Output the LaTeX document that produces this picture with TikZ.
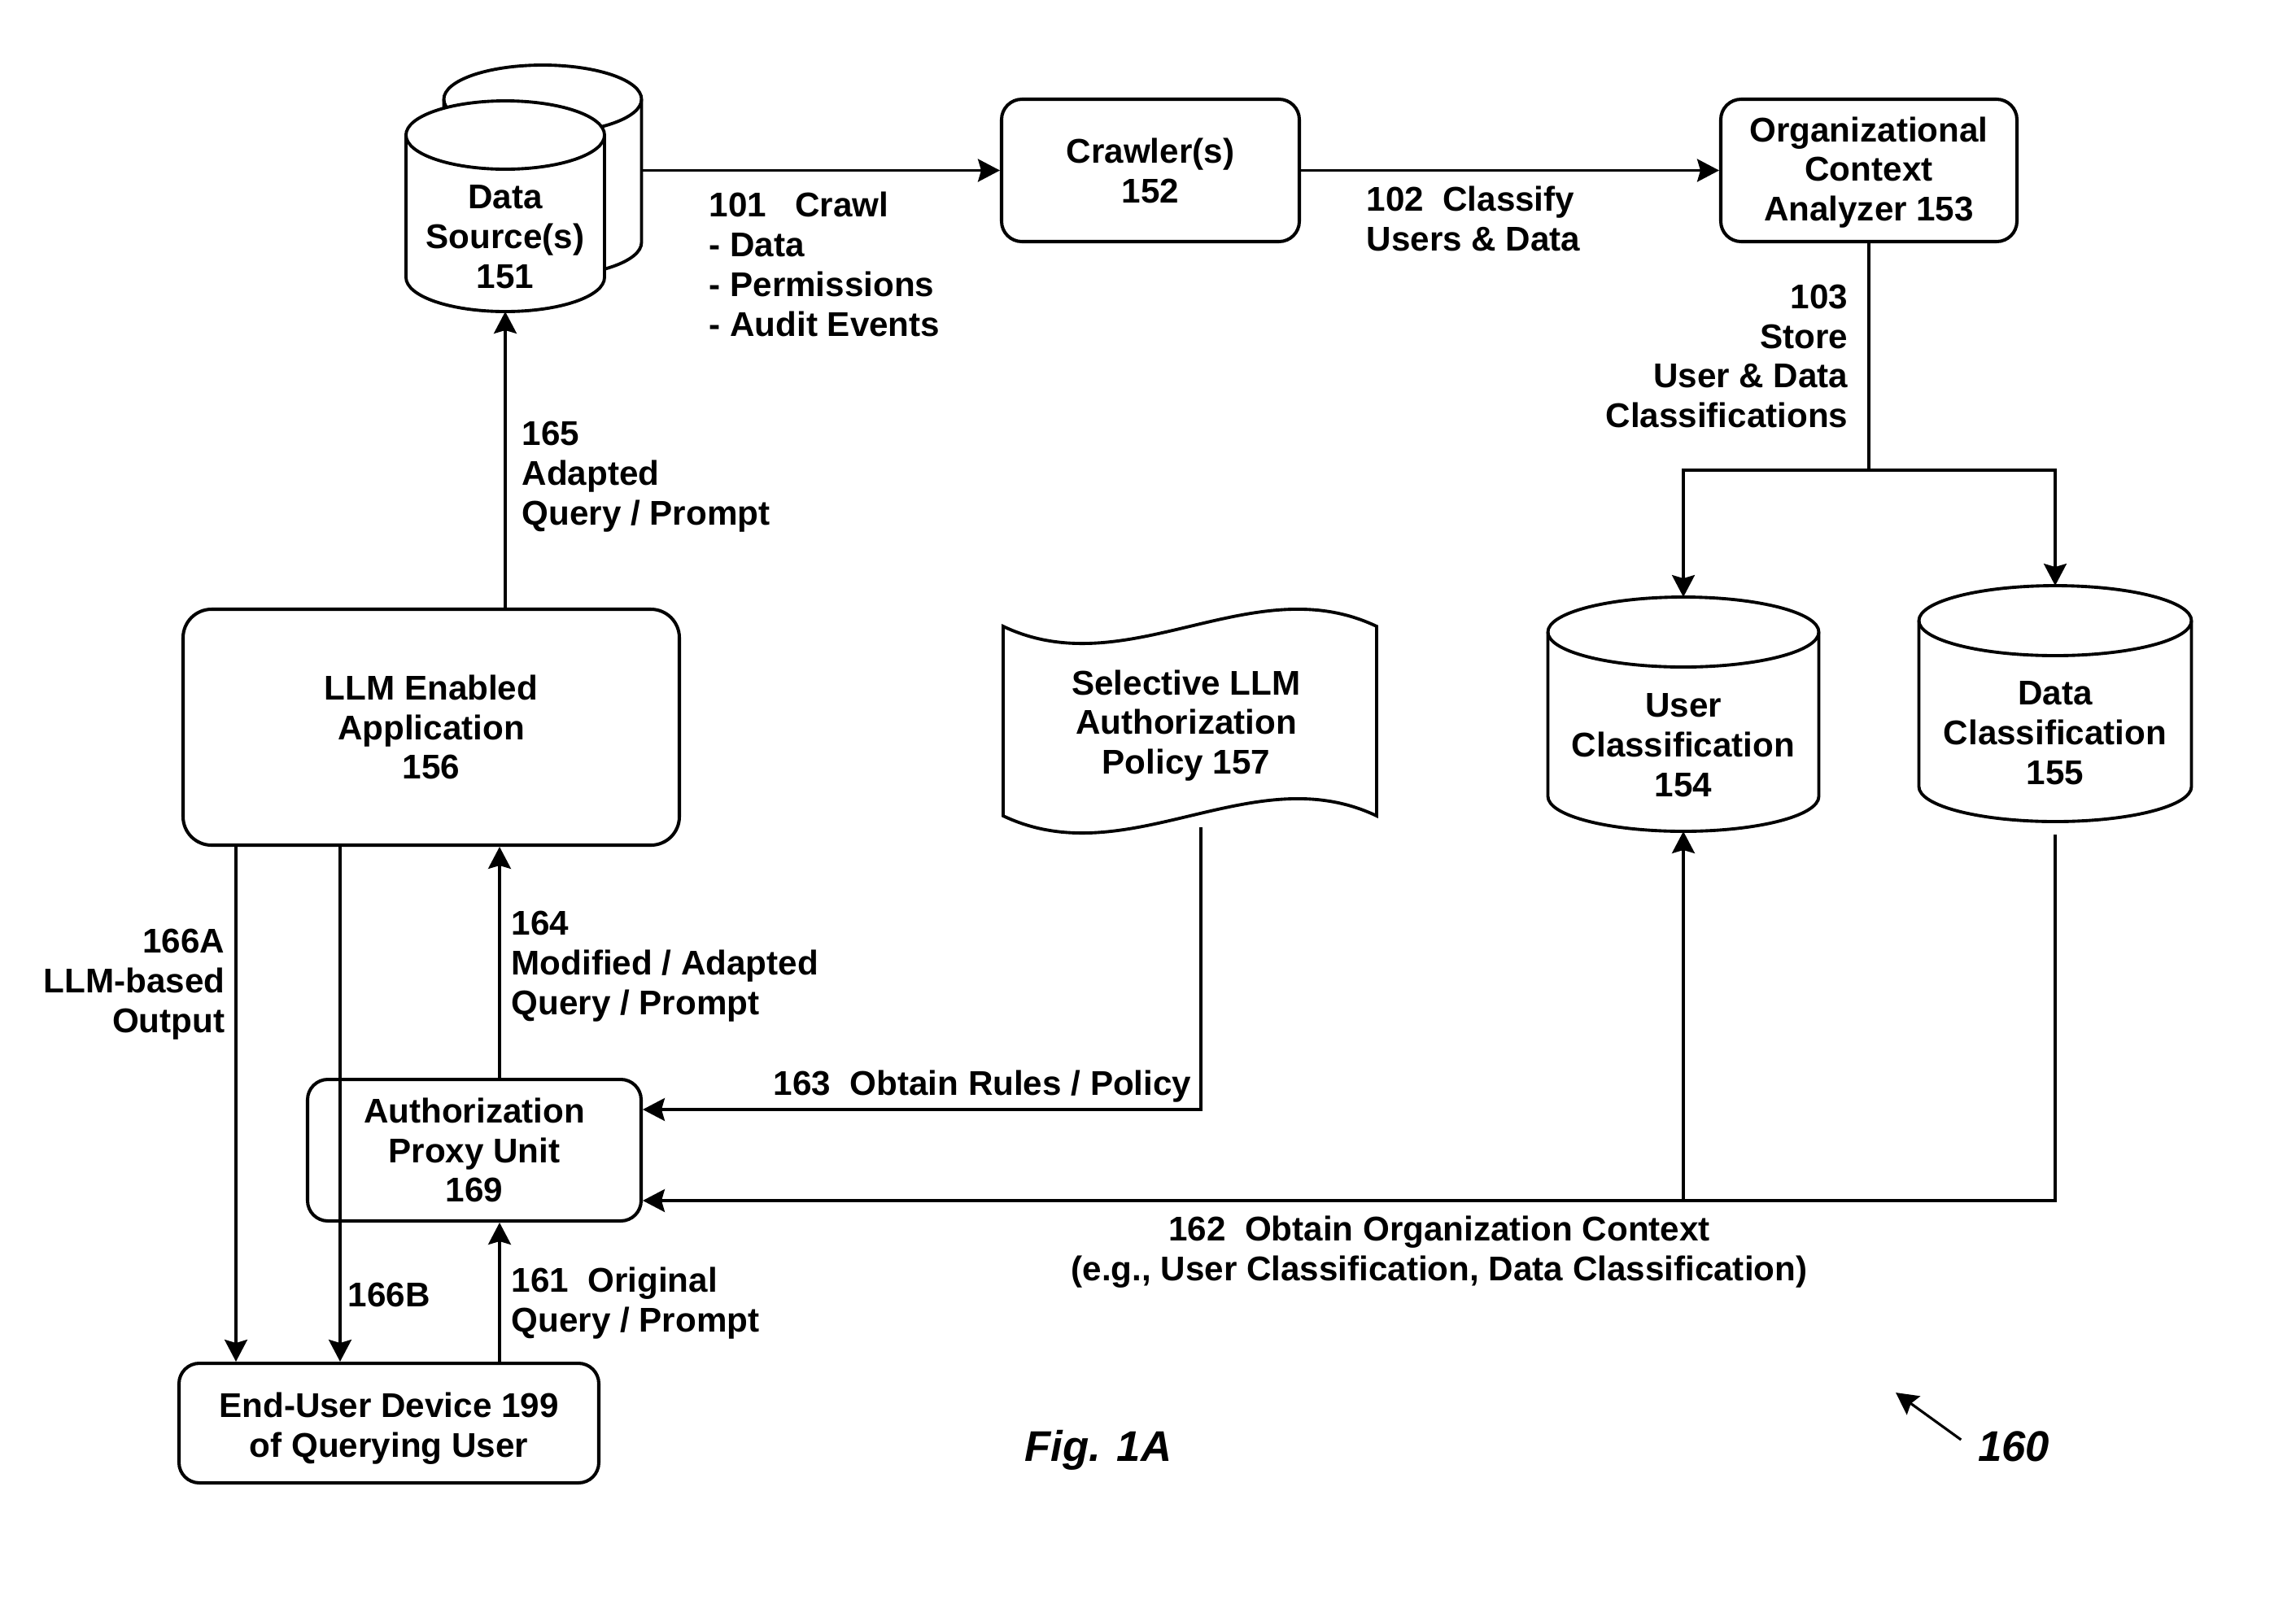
\documentclass[tikz,border=0pt]{standalone}
\usepackage{fontspec}
\setmainfont{Liberation Sans}
\usetikzlibrary{arrows.meta}
\newcommand\dbcyl[5]{%
 \draw[line width=1.1pt, fill=white] ({#1-#4},{#2-#5}) -- ({#1-#4},{#3+#5}) arc[start angle=180,end angle=360,x radius=#4,y radius=#5] -- ({#1+#4},{#2-#5}) arc[start angle=0,end angle=180,x radius=#4,y radius=#5] -- cycle;
 \draw[line width=1.1pt] ({#1-#4},{#2-#5}) arc[start angle=180,end angle=360,x radius=#4,y radius=#5];}
\tikzset{
 every node/.style={font=\bfseries\fontsize{12pt}{13.9pt}\selectfont},
 lbl/.style={inner sep=0pt, align=left},
 box/.style={draw, line width=1.15pt, rounded corners=0.25cm, align=center, inner sep=0pt},
 ghost/.style={inner sep=0pt, outer sep=0pt},
 arr/.style={line width=0.9pt, -{Stealth[length=0.27cm,width=0.28cm,inset=0.04cm]}},
 ln/.style={line width=0.9pt},
 figlbl/.style={font=\bfseries\itshape\fontsize{15pt}{18pt}\selectfont, inner sep=0pt},
}
\begin{document}
\begin{tikzpicture}
\fill[white] (0,0) rectangle (28.22,-19.82);
\useasboundingbox (0,0) rectangle (28.22,-19.82);

% Data sources 151
\dbcyl{6.67}{-0.80}{-3.40}{1.215}{0.42}
\dbcyl{6.21}{-1.24}{-3.83}{1.22}{0.42}
\node[ghost, minimum width=2.43cm, minimum height=2.60cm] (dsb) at (6.67,-2.10) {};
\node[ghost, minimum width=2.44cm, minimum height=2.59cm] (ds) at (6.21,-2.535) {};
\node[lbl, align=center] (dst) at (6.21,-2.91) {Data\\Source(s)\\151};

% Crawler and analyzer
\node[box, minimum width=3.66cm, minimum height=1.75cm] (crawl) at (14.14,-2.095) {Crawler(s)\\152};
\node[box, minimum width=3.64cm, minimum height=1.75cm] (org) at (22.97,-2.095) {};
\node[lbl, align=center] (orgt) at (22.97,-2.12) {Organizational\\Context\\Analyzer 153};

\draw[arr] (dsb.east |- crawl.west) -- (crawl.west);
\draw[arr] (crawl.east) -- (org.west);
\node[lbl, anchor=west] (l101) at (8.71,-3.25) {101\ \ \ Crawl\\- Data\\- Permissions\\- Audit Events};
\node[lbl, anchor=west] (l102) at (16.79,-2.69) {102\ \ Classify\\Users \& Data};

% Classification stores
\dbcyl{20.69}{-7.34}{-10.22}{1.665}{0.43}
\dbcyl{25.26}{-7.20}{-10.10}{1.675}{0.43}
\node[ghost, minimum width=3.33cm, minimum height=2.88cm] (uc) at (20.69,-8.78) {};
\node[ghost, minimum width=3.35cm, minimum height=2.90cm] (dc) at (25.26,-8.65) {};
\node[lbl, align=center] (uct) at (20.69,-9.16) {User\\Classification\\154};
\node[lbl, align=center] (dct) at (25.26,-9.01) {Data\\Classification\\155};

\coordinate (j103) at (22.97,-5.78);
\draw[ln] (org.south) -- (j103);
\draw[arr] (j103) -| (uc.north);
\draw[arr] (j103) -| (dc.north);
\node[lbl, anchor=east, align=right] (l103) at (22.72,-4.38) {103\\Store\\User \& Data\\Classifications};

% Policy 157
\draw[line width=1.1pt, fill=white] (12.33,-7.70) .. controls (13.86,-8.43) and (15.39,-6.97) .. (16.92,-7.70) -- (16.92,-10.03) .. controls (15.39,-9.30) and (13.86,-10.76) .. (12.33,-10.03) -- cycle;
\node[ghost, minimum width=4.59cm, minimum height=2.33cm] (pol) at (14.625,-8.865) {};
\node[lbl, align=center] (polt) at (14.58,-8.92) {Selective LLM\\Authorization\\Policy 157};

% LLM app, proxy, end user
\node[box, rounded corners=0.35cm, minimum width=6.10cm, minimum height=2.90cm] (llm) at (5.30,-8.94) {LLM Enabled\\Application\\156};
\node[box, minimum width=4.10cm, minimum height=1.74cm] (auth) at (5.83,-14.14) {Authorization\\Proxy Unit\\169};
\node[box, minimum width=5.16cm, minimum height=1.47cm] (eu) at (4.78,-17.495) {};
\node[lbl, align=center] (eut) at (4.78,-17.565) {End-User Device 199\\of Querying User};

\draw[arr] (ds.south |- llm.north) -- (ds.south);
\node[lbl, anchor=west] (l165) at (6.41,-5.86) {165\\Adapted\\Query / Prompt};

\draw[arr] ([xshift=0.31cm]auth.north) -- ([xshift=0.31cm]auth.north |- llm.south);
\node[lbl, anchor=west] (l164) at (6.28,-11.88) {164\\Modified / Adapted\\Query / Prompt};

\draw[arr] ([xshift=0.31cm]auth.south |- eu.north) -- ([xshift=0.31cm]auth.south);
\node[lbl, anchor=west] (l161) at (6.28,-16.02) {161\ \ Original\\Query / Prompt};

\coordinate (x166a) at (2.90,0);
\coordinate (x166b) at (4.18,0);
\draw[arr] (x166a |- llm.south) -- (x166a |- eu.north);
\draw[arr] (x166b |- llm.south) -- (x166b |- eu.north);
\node[lbl, anchor=east, align=right] (l166a) at (2.77,-12.10) {166A\\LLM-based\\Output};
\node[lbl, anchor=west] (l166b) at (4.27,-15.92) {166B};

% 163
\coordinate (p163) at (14.76,-10.17);
\coordinate (y163) at (0,-13.64);
\draw[arr] (p163) |- (auth.east |- y163);
\node[lbl, anchor=east] (l163) at (14.65,-13.36) {163\ \ Obtain Rules / Policy};

% 162
\coordinate (y162) at (0,-14.76);
\draw[arr] ([yshift=-0.16cm]dc.south) |- (auth.east |- y162);
\draw[arr] (uc.south |- y162) -- (uc.south);
\node[lbl, align=center] (l162) at (17.69,-15.39) {162\ \ Obtain Organization Context\\(e.g., User Classification, Data Classification)};

% figure labels
\node[figlbl] (fig) at (13.50,-17.83) {Fig. 1A};
\node[figlbl] (ref160) at (24.75,-17.78) {160};
\coordinate (t160) at (23.30,-17.12);
\draw[arr] ([shift={(-0.2,0.08)}]ref160.west) -- (t160);
\end{tikzpicture}
\end{document}
